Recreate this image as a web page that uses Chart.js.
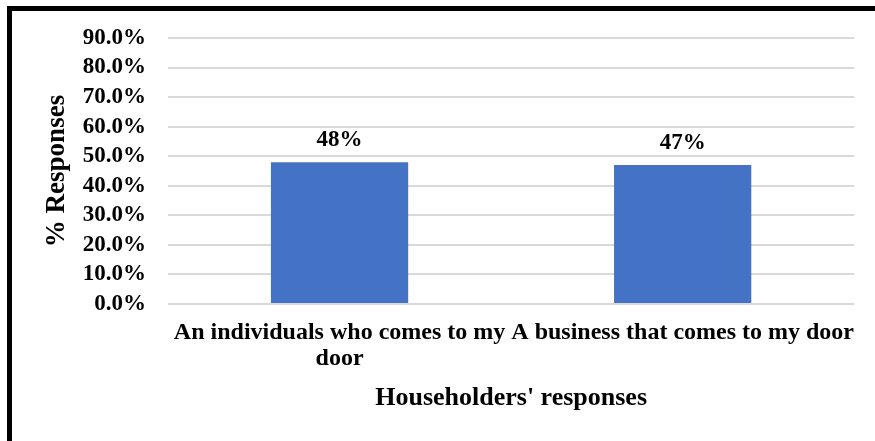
<!DOCTYPE html>
<html>
<head>
<meta charset="utf-8">
<script src="https://cdn.jsdelivr.net/npm/chart.js@4"></script>
<style>
  html, body { margin: 0; padding: 0; background: #ffffff; }
  #wrap { position: relative; width: 875px; height: 441px; }
</style>
</head>
<body>
<div id="wrap"><canvas id="chart" width="875" height="441"></canvas></div>
<script>
// Categories (each wrapped into lines as shown under the axis)
const categories = [
  ["An individuals who comes to my", "door"],
  ["A business that comes to my door"]
];
// Share of responses, in percent
const responses = [48, 47];
// Value axis range
const yMin = 0, yMax = 90, yStep = 10;

const serif = "'Liberation Serif', 'Times New Roman', serif";

// Frame lines along the left and top edges
const framePlugin = {
  id: 'frame',
  afterDraw(chart) {
    const ctx = chart.ctx;
    ctx.save();
    ctx.fillStyle = '#000000';
    ctx.fillRect(7, 6, 868, 5);
    ctx.fillRect(7, 6, 5, 435);
    ctx.restore();
  }
};

// Value labels above the bars
const valueLabels = {
  id: 'valueLabels',
  afterDatasetsDraw(chart) {
    const ctx = chart.ctx;
    const meta = chart.getDatasetMeta(0);
    ctx.save();
    ctx.font = "bold 23px " + serif;
    ctx.fillStyle = '#000000';
    ctx.textAlign = 'center';
    ctx.textBaseline = 'alphabetic';
    meta.data.forEach((bar, i) => {
      ctx.fillText(responses[i] + '%', bar.x, bar.y - 16);
    });
    ctx.restore();
  }
};

new Chart(document.getElementById('chart'), {
  type: 'bar',
  data: {
    labels: categories,
    datasets: [{
      data: responses,
      backgroundColor: '#4472C4',
      borderWidth: 0,
      categoryPercentage: 0.8,
      barPercentage: 0.5
    }]
  },
  options: {
    responsive: false,
    animation: false,
    devicePixelRatio: 1,
    layout: { padding: { left: 0, right: 20, top: 38, bottom: 0 } },
    plugins: { legend: { display: false }, tooltip: { enabled: false } },
    scales: {
      x: {
        grid: { display: false, drawTicks: false },
        border: { display: false },
        ticks: {
          color: '#000000',
          padding: 16,
          maxRotation: 0,
          autoSkip: false,
          font: { family: serif, size: 24, weight: 'bold', lineHeight: 1.08 }
        },
        title: {
          display: true,
          text: "Householders' responses",
          color: '#000000',
          font: { family: serif, size: 26, weight: 'bold' },
          padding: { top: 0, bottom: 27 }
        },
        afterFit(scale) { scale.height = 137; }
      },
      y: {
        min: yMin,
        max: yMax,
        grid: { color: '#d9d9d9', lineWidth: 2, drawTicks: false },
        border: { display: false },
        ticks: {
          stepSize: yStep,
          autoSkip: false,
          color: '#000000',
          padding: 22,
          font: { family: serif, size: 23, weight: 'bold', lineHeight: 1.0 },
          callback: (v) => Number(v).toFixed(1) + '%'
        },
        title: {
          display: true,
          text: '% Responses',
          color: '#000000',
          font: { family: serif, size: 27, weight: 'bold' },
          padding: { top: 41, bottom: 0 }
        },
        afterFit(scale) { scale.width = 168; }
      }
    }
  },
  plugins: [framePlugin, valueLabels]
});
</script>
</body>
</html>
